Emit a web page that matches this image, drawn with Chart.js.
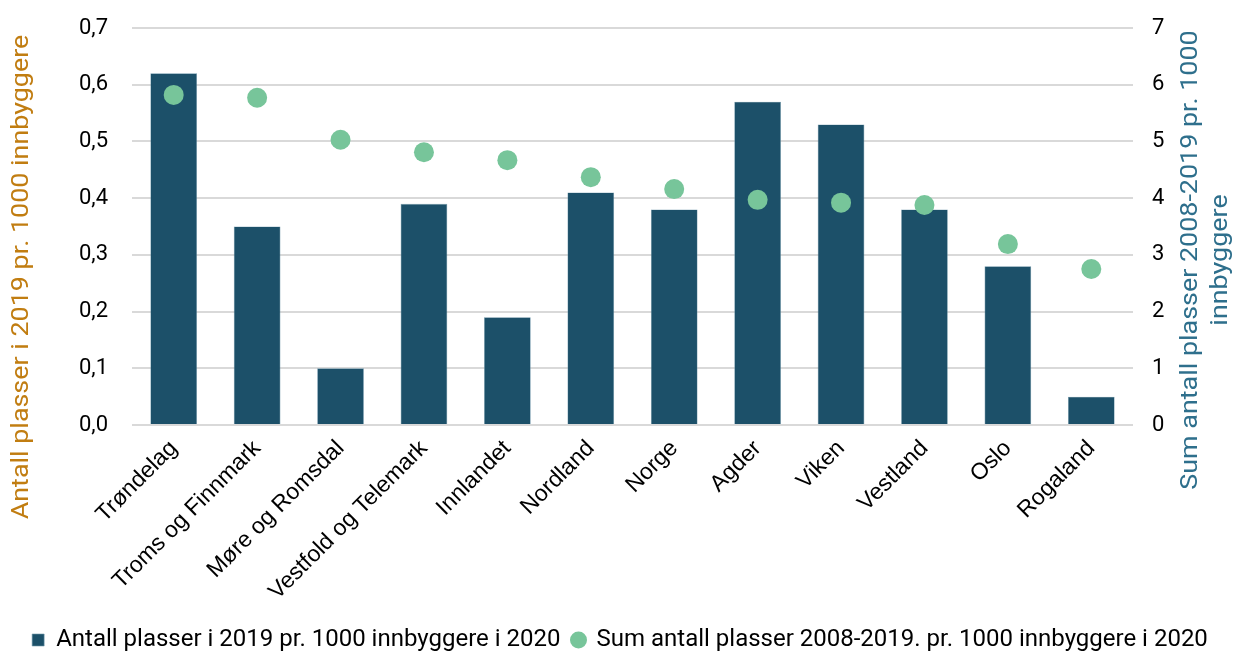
<!DOCTYPE html>
<html>
<head>
<meta charset="utf-8">
<script src="https://cdn.jsdelivr.net/npm/chart.js@4.4.1/dist/chart.umd.min.js"></script>
<style>
  html, body { margin: 0; padding: 0; background: #fff; }
  #wrap { width: 1240px; height: 653px; }
</style>
</head>
<body>
<div id="wrap"><canvas id="chart" width="1240" height="653"></canvas></div>
<script>
const regions = [
  "Trøndelag", "Troms og Finnmark", "Møre og Romsdal", "Vestfold og Telemark",
  "Innlandet", "Nordland", "Norge", "Agder", "Viken", "Vestland", "Oslo", "Rogaland"
];
const places2019 = [0.62, 0.35, 0.10, 0.39, 0.19, 0.41, 0.38, 0.57, 0.53, 0.38, 0.28, 0.05];
const placesSum = [5.82, 5.77, 5.03, 4.81, 4.67, 4.37, 4.16, 3.97, 3.92, 3.88, 3.19, 2.75];

const barLabel = "Antall plasser i 2019 pr. 1000 innbyggere i 2020";
const dotLabel = "Sum antall plasser 2008-2019. pr. 1000 innbyggere i 2020";
const leftTitle = "Antall plasser i 2019 pr. 1000 innbyggere";
const rightTitle = ["Sum antall plasser 2008-2019 pr. 1000", "innbyggere"];

const barColor = "#1c5069";
const dotColor = "#77c59a";
const gridColor = "#d9d9d9";

// rotated axis titles, drawn outside the scales
const axisTitles = {
  id: "axisTitles",
  afterLayout(chart) {
    // push the legend row down a little
    chart.legend.top += 9;
    chart.legend.bottom += 9;
  },
  afterDraw(chart) {
    const ctx = chart.ctx;
    ctx.save();
    ctx.font = "24px Roboto";
    ctx.textAlign = "center";
    ctx.textBaseline = "middle";

    ctx.save();
    ctx.translate(22, 277);
    ctx.rotate(-Math.PI / 2);
    ctx.scale(1.12, 1);
    ctx.fillStyle = "#c17d11";
    ctx.fillText(leftTitle, 0, 0);
    ctx.restore();

    ctx.fillStyle = "#2e6f8c";
    rightTitle.forEach((line, i) => {
      ctx.save();
      ctx.translate(1191 + i * 30, 260);
      ctx.rotate(-Math.PI / 2);
      ctx.scale(1.12, 1);
      ctx.fillText(line, 0, 0);
      ctx.restore();
    });

    ctx.restore();
  }
};

// fixed side widths; the tick padding should not push the plot down
function sideAxis(width) {
  return (scale) => {
    scale.width = width;
    scale.paddingTop = 0;
    scale.paddingBottom = 0;
  };
}

new Chart(document.getElementById("chart"), {
  type: "bar",
  data: {
    labels: regions,
    datasets: [
      {
        label: barLabel,
        data: places2019,
        backgroundColor: barColor,
        borderColor: "#6f97aa",
        borderWidth: 0.6,
        yAxisID: "y",
        categoryPercentage: 0.56,
        barPercentage: 1,
        pointStyle: "rect",
        order: 2
      },
      {
        type: "line",
        label: dotLabel,
        data: placesSum,
        showLine: false,
        pointRadius: 10,
        pointHoverRadius: 10,
        pointBackgroundColor: dotColor,
        pointBorderWidth: 0,
        backgroundColor: dotColor,
        borderColor: dotColor,
        pointStyle: "circle",
        yAxisID: "y1",
        order: 1
      }
    ]
  },
  options: {
    responsive: false,
    animation: false,
    layout: { padding: { top: 28, left: 0, right: 0, bottom: 0 } },
    plugins: {
      legend: {
        position: "bottom",
        labels: {
          usePointStyle: true,
          boxWidth: 12,
          boxHeight: 12,
          padding: 12,
          color: "#000",
          font: { family: "Roboto", size: 24 },
          sort: (a, b) => a.datasetIndex - b.datasetIndex
        }
      },
      tooltip: { enabled: false }
    },
    scales: {
      x: {
        grid: { display: false },
        border: { display: false },
        ticks: {
          color: "#000",
          font: { family: "Liberation Sans", size: 23 },
          minRotation: 45,
          maxRotation: 45,
          padding: 2
        },
        afterFit(scale) { scale.height = 182; }
      },
      y: {
        position: "left",
        min: 0,
        max: 0.7,
        grid: { color: gridColor, lineWidth: 2, drawTicks: false },
        border: { display: false },
        ticks: {
          stepSize: 0.1,
          color: "#000",
          padding: 24,
          font: { family: "Roboto", size: 22 },
          callback: (v) => v.toFixed(1).replace(".", ",")
        },
        afterFit: sideAxis(132)
      },
      y1: {
        position: "right",
        min: 0,
        max: 7,
        grid: { display: false, drawTicks: false },
        border: { display: false },
        ticks: {
          stepSize: 1,
          color: "#000",
          padding: 19,
          font: { family: "Roboto", size: 22 }
        },
        afterFit: sideAxis(107)
      }
    }
  },
  plugins: [axisTitles]
});
</script>
</body>
</html>
